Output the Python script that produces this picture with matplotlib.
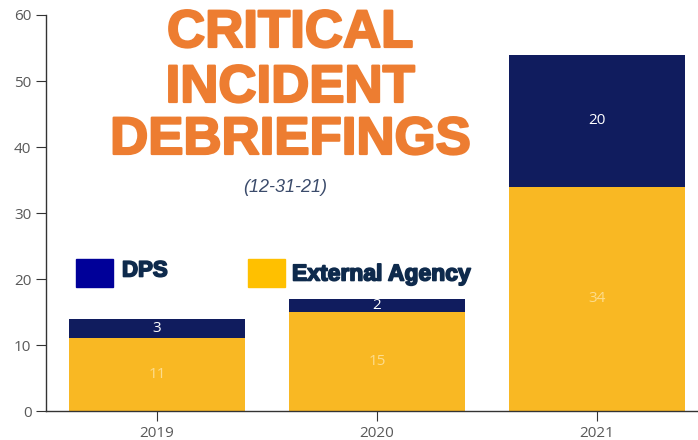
import matplotlib
matplotlib.use("Agg")
import matplotlib.pyplot as plt
import matplotlib.patheffects as pe
from matplotlib.patches import Rectangle

years = ["2019", "2020", "2021"]
external = [11, 15, 34]
dps = [3, 2, 20]

YELLOW = "#F9B823"
NAVY = "#101C5E"
ORANGE = "#ED7D31"
TEXT_NAVY = "#0E2A4C"

fig = plt.figure(figsize=(6.98, 4.40), dpi=100)
ax = fig.add_axes([46 / 698, 29 / 440, 652 / 698, 396 / 440])

x = list(range(len(years)))
ax.bar(x, external, width=0.8, color=YELLOW)
ax.bar(x, dps, width=0.8, bottom=external, color=NAVY)

for i in x:
    ax.text(i, external[i] / 2, str(external[i]), ha="center", va="center",
            color="#FDDC8C", fontsize=11, family="Open Sans")
    ax.text(i, external[i] + dps[i] / 2, str(dps[i]), ha="center", va="center",
            color="white", fontsize=11, family="Open Sans")

ax.set_xlim(-0.505, 2.46)
ax.set_ylim(0, 60)
ax.set_yticks(range(0, 61, 10))
ax.set_xticks(x)
ax.set_xticklabels(years)
for s in ["top", "right"]:
    ax.spines[s].set_visible(False)
for s in ["left", "bottom"]:
    ax.spines[s].set_color("#333333")
    ax.spines[s].set_linewidth(1.0)
ax.tick_params(axis="both", colors="#333333", labelcolor="#595959",
               labelsize=11, length=7)
for lab in ax.get_xticklabels() + ax.get_yticklabels():
    lab.set_family("Open Sans")

# title block
thick = [pe.withStroke(linewidth=1.6, foreground=ORANGE)]
for txt, y in [("CRITICAL", 33), ("INCIDENT", 88), ("DEBRIEFINGS", 140)]:
    fig.text(290 / 698, 1 - y / 440, txt, ha="center", va="center",
             color=ORANGE, fontsize=38, fontweight="bold",
             family="Liberation Sans", path_effects=thick)
fig.text(285 / 698, 1 - 188 / 440, "(12-31-21)", ha="center", va="center",
         color="#3B4B6B", fontsize=13, style="italic", family="Liberation Sans")

# legend
leg_fx = [pe.withStroke(linewidth=1.2, foreground=TEXT_NAVY)]
fig.patches.append(Rectangle((76 / 698, 1 - 287 / 440), 37 / 698, 28 / 440,
                             transform=fig.transFigure, color="#000099"))
fig.text(122 / 698, 1 - 271 / 440, "DPS", ha="left", va="center",
         color=TEXT_NAVY, fontsize=16, fontweight="bold", family="Liberation Sans",
         path_effects=leg_fx)
fig.patches.append(Rectangle((248 / 698, 1 - 287 / 440), 37 / 698, 28 / 440,
                             transform=fig.transFigure, color="#FFC000"))
fig.text(292 / 698, 1 - 274 / 440, "External Agency", ha="left", va="center",
         color=TEXT_NAVY, fontsize=16.5, fontweight="bold", family="Liberation Sans",
         path_effects=leg_fx)

fig.savefig("out.png", dpi=100)
